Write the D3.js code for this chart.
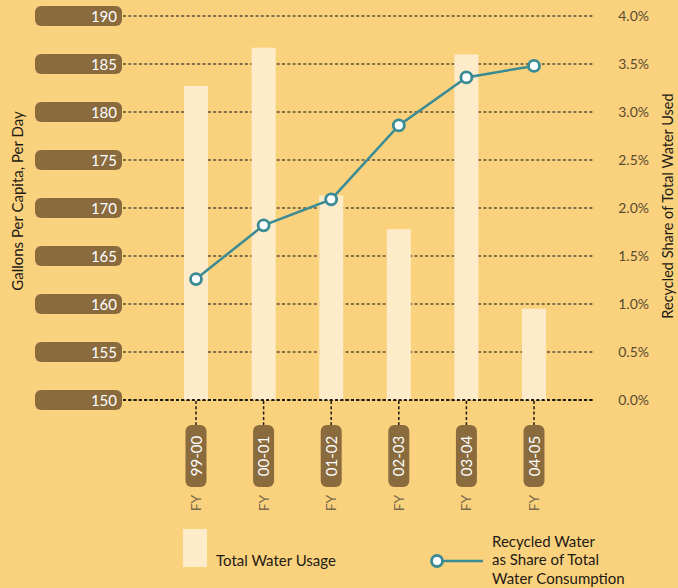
<!DOCTYPE html>
<html>
<head>
<meta charset="utf-8">
<script src="https://cdn.jsdelivr.net/npm/d3@7"></script>
<style>
  html, body { margin: 0; padding: 0; background: #FAD27E; }
  svg { display: block; }
  text { font-family: Lato, "Open Sans", sans-serif; }
</style>
</head>
<body>
<svg id="chart" width="678" height="588"></svg>
<script>
// Fiscal years shown on the x axis
const years = ["99-00", "00-01", "01-02", "02-03", "03-04", "04-05"];
// Total water usage, gallons per capita per day
const usage = [182.7, 186.7, 171.3, 167.8, 186.0, 159.5];
// Recycled water as a share of total consumption, percent
const recycledShare = [1.26, 1.82, 2.09, 2.86, 3.36, 3.48];
// Axis ticks
const leftTicks = [150, 155, 160, 165, 170, 175, 180, 185, 190];
const rightTicks = [0, 0.5, 1, 1.5, 2, 2.5, 3, 3.5, 4];

const svg = d3.select("#chart");
const pill = "#8A6B3E", barFill = "#FDEBC9", teal = "#3A8B94";

const x = d3.scalePoint().domain(years).range([196, 534]);
const yL = d3.scaleLinear().domain([150, 190]).range([400, 16]);
const yR = d3.scaleLinear().domain([0, 4]).range([400, 16]);

const gridLeft = 123, gridRight = 593;

// Horizontal dotted gridlines
svg.append("g").selectAll("line").data(leftTicks).join("line")
  .attr("x1", gridLeft).attr("x2", gridRight)
  .attr("y1", d => yL(d)).attr("y2", d => yL(d))
  .attr("stroke", d => d === 150 ? "#1e1a14" : "#5e4f37")
  .attr("stroke-width", d => d === 150 ? 2 : 1.6)
  .attr("stroke-dasharray", "3,2.3");

// Bars
const barW = 24;
svg.append("g").selectAll("rect").data(years).join("rect")
  .attr("x", d => x(d) - barW / 2)
  .attr("width", barW)
  .attr("y", (d, i) => yL(usage[i]))
  .attr("height", (d, i) => yL(150) - yL(usage[i]))
  .attr("fill", barFill);

// Baseline redrawn over the bars
svg.append("line")
  .attr("x1", gridLeft).attr("x2", gridRight)
  .attr("y1", yL(150)).attr("y2", yL(150))
  .attr("stroke", "#1e1a14").attr("stroke-width", 2)
  .attr("stroke-dasharray", "3,2.3");

// Left axis: rounded tabs with values
const leftAxis = svg.append("g");
leftTicks.forEach(t => {
  const g = leftAxis.append("g").attr("transform", `translate(0,${yL(t)})`);
  g.append("rect").attr("x", 35).attr("y", -10).attr("width", 87).attr("height", 20)
    .attr("rx", 6).attr("fill", pill);
  g.append("text").attr("x", 117).attr("y", 5.5).attr("text-anchor", "end")
    .attr("fill", "#ffffff").attr("font-size", 15).text(t);
});

// Right axis labels
svg.append("g").selectAll("text").data(rightTicks).join("text")
  .attr("x", 649).attr("y", d => yR(d) + 5)
  .attr("text-anchor", "end").attr("fill", "#5a4a30").attr("font-size", 14)
  .text(d => d3.format(".1f")(d) + "%");

// Axis titles
svg.append("text")
  .attr("transform", "translate(23,201) rotate(-90)")
  .attr("text-anchor", "middle").attr("fill", "#1e1a14").attr("font-size", 15)
  .text("Gallons Per Capita, Per Day");
svg.append("text")
  .attr("transform", "translate(673,206) rotate(-90)")
  .attr("text-anchor", "middle").attr("fill", "#1e1a14").attr("font-size", 14.5)
  .text("Recycled Share of Total Water Used");

// Category ticks and tabs
const cat = svg.append("g").selectAll("g").data(years).join("g")
  .attr("transform", d => `translate(${x(d)},0)`);
cat.append("line").attr("x1", 0).attr("x2", 0).attr("y1", 401).attr("y2", 425)
  .attr("stroke", "#1e1a14").attr("stroke-width", 1.5).attr("stroke-dasharray", "3,2.3");
cat.append("rect").attr("x", -10.5).attr("y", 425).attr("width", 21).attr("height", 62)
  .attr("rx", 6).attr("fill", pill);
cat.append("text").attr("transform", "translate(5.5,456) rotate(-90)")
  .attr("text-anchor", "middle").attr("fill", "#ffffff").attr("font-size", 15)
  .text(d => d);
cat.append("text").attr("transform", "translate(5,503) rotate(-90)")
  .attr("text-anchor", "middle").attr("fill", "#7a6a4c").attr("font-size", 14)
  .text("FY");

// Recycled share line
const line = d3.line().x((d, i) => x(years[i])).y(d => yR(d));
svg.append("path").datum(recycledShare)
  .attr("d", line).attr("fill", "none")
  .attr("stroke", teal).attr("stroke-width", 2.5);
svg.append("g").selectAll("circle").data(recycledShare).join("circle")
  .attr("cx", (d, i) => x(years[i])).attr("cy", d => yR(d)).attr("r", 5.5)
  .attr("fill", "#ffffff").attr("stroke", teal).attr("stroke-width", 2.8);

// Legend
svg.append("rect").attr("x", 183).attr("y", 529).attr("width", 24).attr("height", 38)
  .attr("fill", barFill);
svg.append("text").attr("x", 216).attr("y", 566).attr("fill", "#1e1a14")
  .attr("font-size", 15).text("Total Water Usage");
svg.append("line").attr("x1", 437).attr("x2", 483).attr("y1", 561).attr("y2", 561)
  .attr("stroke", teal).attr("stroke-width", 2.5);
svg.append("circle").attr("cx", 437).attr("cy", 561).attr("r", 5.5)
  .attr("fill", "#ffffff").attr("stroke", teal).attr("stroke-width", 2.8);
const lt = svg.append("text").attr("x", 492).attr("fill", "#1e1a14").attr("font-size", 15);
["Recycled Water", "as Share of Total", "Water Consumption"].forEach((s, i) => {
  lt.append("tspan").attr("x", 492).attr("y", 547 + i * 18.3).text(s);
});
</script>
</body>
</html>
